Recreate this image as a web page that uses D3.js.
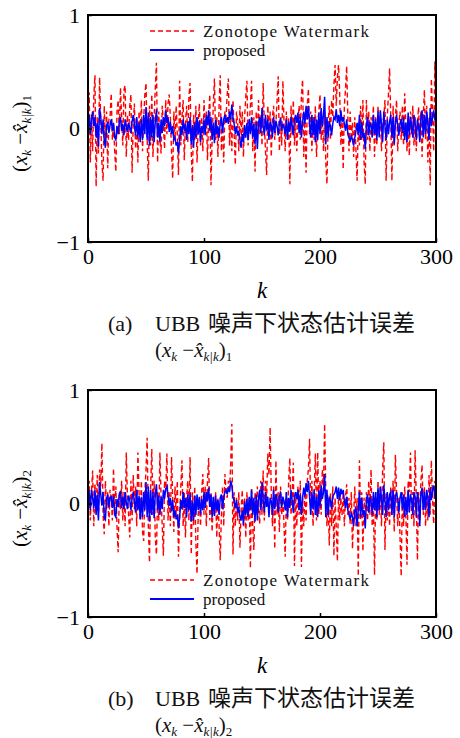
<!DOCTYPE html>
<html>
<head>
<meta charset="utf-8">
<script src="https://cdn.jsdelivr.net/npm/d3@7"></script>
<style>
  html, body { margin: 0; padding: 0; background: #fff; }
  svg { display: block; }
</style>
</head>
<body>
<div id="chart"></div>
<script>
// state estimation error under UBB noise, two components, k = 0..300
const kTicks = [0, 100, 200, 300];
const yTicks = [-1, 0, 1];
const seriesNames = ['Zonotope Watermark', 'proposed'];
const captionTags = ['(a)', '(b)'];
const captionText = '噪声下状态估计误差';
const componentIdx = ['1', '2'];

// panel (a): (x_k - x^_k|k)_1
const err1Zono = [
  -0.05, 0.32, -0.3, 0.12, -0.2, 0.28, 0.47, -0.51, 0.1, -0.22,
  0.45, 0.05, -0.3, -0.46, 0.2, -0.12, 0.15, -0.35, 0.08, 0.1,
  0.31, -0.1, 0.05, -0.2, -0.38, 0.15, 0.25, -0.05, 0.36, 0.1,
  -0.15, 0.34, 0.38, -0.25, 0.12, -0.1, 0.2, 0.3, -0.39, 0.05,
  0.22, -0.18, 0.1, -0.3, 0.15, -0.05, 0.25, -0.2, 0.08, 0.3,
  0.4, -0.1, -0.46, 0.2, -0.15, 0.3, -0.25, 0.1, 0.35, 0.58,
  -0.3, 0.15, -0.1, -0.22, 0.2, 0.05, -0.18, 0.25, -0.05, 0.22,
  0.3, 0.1, -0.2, -0.44, 0.15, -0.1, 0.2, -0.05, -0.41, 0.42,
  -0.15, 0.1, 0.25, -0.28, 0.05, 0.2, -0.12, 0.28, 0.4, -0.2,
  -0.47, 0.12, -0.1, 0.2, -0.3, 0.05, 0.22, -0.15, 0.1, -0.2,
  0.25, -0.05, 0.15, -0.28, 0.1, 0.3, -0.5, -0.1, 0.2, 0.44,
  -0.1, 0.1, -0.25, 0.2, 0.47, -0.2, 0.05, -0.3, 0.15, 0.1,
  0.3, 0.44, -0.15, 0.1, -0.2, 0.25, -0.05, -0.32, 0.15, 0.05,
  -0.2, 0.2, -0.1, 0.15, -0.25, 0.1, 0.28, 0.42, -0.15, 0.05,
  0.2, 0.42, -0.2, 0.1, -0.38, 0.15, -0.1, 0.25, -0.05, 0.12,
  -0.15, 0.4, 0.05, -0.2, -0.41, 0.2, -0.05, 0.15, -0.25, 0.1,
  0.2, -0.1, 0.05, 0.25, 0.46, -0.2, 0.1, -0.15, 0.42, 0.05,
  -0.2, 0.15, -0.1, 0.1, -0.49, 0.2, -0.05, 0.25, -0.15, 0.1,
  -0.2, 0.05, 0.2, -0.1, 0.3, 0.43, -0.25, 0.1, -0.39, 0.2,
  0.35, -0.05, 0.15, -0.2, 0.1, -0.1, 0.2, -0.25, 0.05, 0.15,
  0.3, -0.1, 0.1, -0.2, 0.15, -0.3, -0.49, 0.05, 0.2, -0.1,
  0.25, 0.1, 0.38, 0.56, 0.2, 0.45, 0.56, 0.3, -0.15, 0.1,
  -0.36, 0.2, 0.35, 0.55, 0.1, -0.2, 0.15, -0.1, 0.05, -0.25,
  0.1, -0.2, -0.46, 0.05, -0.15, 0.2, -0.1, 0.25, -0.3, -0.49,
  0.25, -0.1, 0.15, -0.2, 0.1, -0.05, 0.2, -0.25, 0.1, -0.15,
  0.2, -0.05, 0.15, -0.2, 0.05, 0.1, 0.25, -0.46, 0.1, 0.3,
  0.53, 0.1, -0.46, 0.2, -0.15, 0.1, 0.25, -0.2, 0.05, 0.15,
  -0.1, 0.2, -0.15, 0.31, 0.05, -0.2, 0.1, -0.24, 0.15, -0.05,
  0.2, -0.15, 0.1, -0.2, 0.05, 0.19, -0.1, 0.15, -0.25, 0.1,
  0.34, -0.1, 0.2, -0.3, 0.1, -0.5, 0.44, 0.15, -0.2, 0.59,
  0.2
];
const err1Prop = [
  0.05, 0.12, -0.05, 0.08, 0.15, 0.02, 0.1, -0.08, 0.05, -0.16,
  0.18, 0.1, -0.05, 0.08, -0.1, -0.17, 0.02, 0.06, -0.04, 0.03,
  0.08, -0.02, 0.05, -0.08, -0.1, 0.02, -0.05, 0.06, 0.1, -0.02,
  0.04, -0.06, 0.08, 0.02, -0.03, 0.05, 0.01, -0.04, 0.06, 0.12,
  0.03, -0.06, 0.1, -0.08, 0.05, -0.12, 0.08, -0.1, 0.12, -0.05,
  0.19, -0.1, 0.14, -0.15, 0.1, -0.08, 0.12, -0.12, 0.06, 0.17,
  -0.08, 0.05, -0.12, 0.08, -0.04, 0.1, 0.02, 0.16, 0.05, 0.1,
  -0.03, 0.06, -0.05, 0.02, -0.1, -0.08, -0.15, -0.12, -0.22, -0.1,
  0.02, -0.06, 0.08, -0.02, 0.04, -0.1, 0.06, -0.05, 0.1, -0.14,
  0.03, -0.17, 0.05, -0.08, 0.1, -0.05, 0.07, -0.12, 0.02, -0.04,
  0.08, -0.06, 0.12, 0.03, 0.16, -0.02, 0.1, -0.1, 0.05, -0.13,
  0.08, -0.05, 0.02, -0.08, 0.06, 0.1, -0.04, 0.08, 0.12, 0.05,
  0.1, 0.04, 0.15, 0.08, 0.21, 0.1, 0.04, -0.05, 0.02, -0.06,
  -0.02, -0.1, -0.17, -0.05, -0.12, 0.03, -0.08, 0.05, -0.1, 0.08,
  -0.05, 0.1, -0.08, 0.04, -0.14, 0.06, -0.18, 0.05, 0.1, -0.04,
  0.18, 0.02, -0.06, 0.12, -0.02, 0.08, -0.1, 0.06, 0.03, -0.08,
  0.1, -0.04, 0.07, 0.02, -0.06, 0.05, 0.09, -0.02, 0.04, 0.01,
  -0.05, 0.08, -0.1, 0.06, -0.03, 0.1, 0.02, -0.06, 0.08, 0.12,
  0.05, 0.14, -0.04, 0.1, -0.08, 0.06, 0.15, 0.04, 0.2, 0.08,
  0.2, 0.05, -0.08, 0.12, -0.06, 0.1, -0.12, 0.08, -0.1, 0.14,
  -0.05, 0.18, 0.02, 0.12, 0.28, -0.14, 0.1, -0.08, 0.06, 0.02,
  -0.06, 0.04, 0.1, 0.08, 0.17, 0.05, 0.12, 0.02, 0.16, 0.06,
  0.1, 0.04, -0.02, 0.08, -0.05, -0.08, -0.12, -0.06, -0.1, -0.15,
  -0.08, -0.02, 0.05, -0.06, 0.12, -0.1, 0.06, -0.08, -0.04, -0.18,
  0.02, 0.1, -0.06, 0.05, 0.03, -0.08, 0.12, -0.05, 0.08, -0.1,
  0.15, -0.08, 0.16, 0.04, -0.12, 0.15, 0.02, -0.1, 0.08, -0.05,
  0.06, 0.12, -0.08, 0.1, -0.14, 0.05, 0.12, 0.02, -0.06, 0.04,
  0.08, -0.04, 0.1, -0.1, 0.05, -0.12, 0.14, -0.06, 0.1, 0.02,
  -0.08, 0.12, 0.05, -0.1, 0.08, 0.02, -0.12, 0.1, 0.16, -0.08,
  0.12, -0.05, 0.15, 0.04, -0.1, 0.18, 0.02, 0.1, 0.16, 0.08,
  0.05
];

// panel (b): (x_k - x^_k|k)_2
const err2Zono = [
  -0.1, 0.2, -0.15, 0.1, 0.29, -0.2, 0.18, -0.08, 0.25, -0.12,
  0.3, 0.15, 0.53, -0.1, -0.27, 0.2, -0.05, 0.1, -0.2, 0.12,
  0.05, -0.15, 0.31, -0.1, 0.15, -0.2, -0.43, 0.1, -0.05, 0.2,
  -0.15, 0.1, -0.2, 0.45, 0.05, -0.1, -0.3, 0.2, -0.15, 0.25,
  -0.05, 0.15, -0.2, 0.45, 0.1, -0.15, 0.2, -0.25, -0.33, 0.1,
  0.3, 0.58, -0.2, -0.52, 0.15, 0.48, -0.1, 0.2, -0.3, -0.45,
  0.1, -0.15, 0.45, 0.05, -0.2, -0.46, 0.2, 0.1, 0.44, -0.15,
  0.1, -0.2, 0.41, 0.05, -0.25, 0.15, -0.1, 0.2, -0.47, -0.1,
  0.15, 0.38, -0.2, 0.1, -0.3, 0.05, 0.2, -0.15, 0.41, -0.45,
  0.1, -0.2, 0.15, -0.35, -0.62, -0.1, 0.05, -0.2, 0.1, 0.26,
  -0.1, 0.15, -0.2, 0.2, 0.4, -0.15, 0.1, -0.25, 0.05, -0.1,
  0.1, -0.3, 0.05, -0.2, -0.5, -0.1, 0.15, -0.2, 0.26, 0.1,
  0.05, 0.2, 0.1, 0.35, 0.7, -0.45, 0.1, -0.2, 0.05, -0.15,
  0.1, -0.39, -0.05, 0.12, -0.2, 0.05, -0.3, 0.1, -0.15, 0.05,
  -0.57, 0.14, -0.2, -0.41, 0.1, -0.1, 0.15, -0.05, -0.18, 0.2,
  -0.1, 0.29, -0.15, 0.2, 0.05, 0.44, 0.25, 0.67, 0.1, -0.2,
  0.15, -0.4, 0.38, -0.1, 0.1, -0.25, 0.15, -0.1, 0.05, -0.2,
  -0.47, 0.1, -0.15, 0.2, 0.4, -0.1, 0.05, 0.36, -0.55, 0.1,
  -0.2, 0.15, -0.1, 0.2, -0.56, 0.05, -0.2, 0.1, -0.15, 0.2,
  0.3, 0.57, -0.1, 0.2, -0.2, 0.1, 0.44, -0.15, 0.45, -0.1,
  0.2, -0.1, 0.3, 0.15, 0.7, 0.1, -0.2, 0.05, -0.37, 0.1,
  -0.2, 0.15, -0.46, 0.05, -0.2, -0.51, 0.1, -0.15, 0.05, -0.1,
  0.1, -0.2, 0.05, 0.17, -0.1, 0.05, -0.18, 0.1, -0.4, -0.1,
  0.15, -0.2, 0.05, -0.64, 0.38, -0.15, 0.1, -0.42, 0.05, -0.2,
  0.1, -0.15, 0.2, -0.1, 0.3, -0.2, 0.05, -0.63, 0.1, -0.15,
  0.2, -0.1, 0.15, -0.2, 0.3, 0.54, -0.41, 0.1, -0.15, 0.05,
  -0.2, 0.15, -0.1, 0.2, -0.25, 0.43, 0.1, -0.2, 0.05, -0.3,
  -0.64, 0.1, -0.2, 0.15, -0.1, -0.54, 0.2, 0.1, 0.45, -0.15,
  0.1, -0.2, 0.47, 0.05, -0.5, 0.1, -0.15, 0.2, 0.34, -0.1,
  0.15, -0.2, 0.1, -0.15, 0.25, -0.1, 0.38, 0.05, -0.18, 0.2,
  0.1
];
const err2Prop = [
  0.08, 0.1, -0.06, 0.12, 0.05, -0.04, 0.12, -0.1, 0.08, -0.15,
  0.19, 0.08, -0.02, 0.1, -0.12, -0.14, 0.04, 0.08, -0.03, 0.05,
  0.06, -0.04, 0.07, -0.1, -0.12, 0.04, -0.03, 0.08, 0.11, -0.04,
  0.06, -0.05, 0.1, 0.01, -0.05, 0.07, 0.03, -0.06, 0.05, 0.1,
  0.02, -0.08, 0.12, -0.06, 0.07, -0.14, 0.06, -0.12, 0.1, -0.06,
  0.19, -0.12, 0.15, -0.16, 0.12, -0.1, 0.1, -0.13, 0.08, 0.17,
  -0.06, 0.07, -0.1, 0.06, -0.05, 0.12, 0.04, 0.13, 0.15, 0.08,
  -0.02, 0.05, -0.07, 0.03, -0.12, -0.06, -0.14, -0.1, -0.22, -0.12,
  0.03, -0.05, 0.1, -0.04, 0.05, -0.12, 0.08, -0.06, 0.09, -0.16,
  0.02, -0.15, 0.07, -0.1, 0.08, -0.06, 0.06, -0.1, 0.04, -0.06,
  0.1, -0.04, 0.1, 0.02, 0.14, -0.03, 0.08, -0.12, 0.06, -0.11,
  0.07, -0.06, 0.03, -0.1, 0.05, 0.08, -0.05, 0.06, 0.1, 0.12,
  0.08, 0.14, 0.1, 0.2, 0.16, 0.06, 0.02, -0.04, 0.03, -0.08,
  -0.03, -0.12, -0.15, -0.06, -0.19, 0.02, -0.1, 0.04, -0.12, 0.06,
  -0.06, 0.12, -0.1, 0.05, -0.16, 0.08, -0.15, 0.04, 0.12, -0.06,
  0.19, 0.03, -0.08, 0.1, -0.03, 0.06, -0.12, 0.05, 0.02, -0.1,
  0.12, -0.05, 0.08, 0.03, -0.08, 0.06, 0.1, -0.04, 0.06, 0.02,
  -0.06, 0.1, -0.12, 0.05, -0.04, 0.12, 0.03, -0.08, 0.06, 0.1,
  0.04, 0.12, -0.06, 0.08, -0.1, 0.05, 0.14, 0.06, 0.18, 0.1,
  0.2, 0.06, -0.1, 0.1, -0.05, 0.12, -0.1, 0.06, -0.12, 0.12,
  -0.04, 0.16, 0.04, 0.1, 0.26, -0.12, 0.12, -0.1, 0.05, 0.03,
  -0.05, 0.06, 0.08, 0.1, 0.15, 0.04, 0.14, 0.03, 0.13, 0.08,
  0.12, 0.02, -0.04, 0.06, -0.06, -0.1, -0.14, -0.08, -0.12, -0.2,
  -0.06, -0.04, -0.2, -0.05, 0.1, -0.12, 0.05, -0.1, -0.06, -0.22,
  0.03, 0.08, -0.08, 0.06, 0.02, -0.1, 0.1, -0.06, 0.1, -0.12,
  0.14, -0.06, 0.15, 0.05, -0.1, 0.16, 0.03, -0.12, 0.1, -0.06,
  0.08, 0.1, -0.1, 0.12, -0.12, 0.06, 0.1, 0.03, -0.08, 0.05,
  0.1, -0.05, 0.08, -0.12, 0.06, -0.1, 0.12, -0.08, 0.08, 0.03,
  -0.1, 0.1, 0.06, -0.12, 0.1, 0.03, -0.2, 0.08, 0.14, -0.06,
  0.1, -0.06, 0.12, 0.05, -0.12, 0.14, 0.03, 0.12, 0.16, 0.06,
  0.04
];

(function(){
  const W = 460, H = 738;
  const serif = '"Liberation Serif", "Times New Roman", serif';
  const cjk = '"Noto Sans CJK SC", sans-serif';
  const svg = d3.select('#chart').append('svg')
    .attr('width', W).attr('height', H).attr('viewBox', `0 0 ${W} ${H}`);

  const x = d3.scaleLinear().domain([0, 300]).range([88, 436]);

  // (x_k - x^_k|k)_n as tspans
  function formula(t, idx){
    const small = 13;
    t.append('tspan').text('(');
    t.append('tspan').attr('font-style', 'italic').text('x');
    t.append('tspan').attr('font-style', 'italic').attr('font-size', small).attr('dy', 4).text('k');
    t.append('tspan').attr('dy', -4).text(' \u2212');
    t.append('tspan').attr('font-style', 'italic').text('x\u0302');
    t.append('tspan').attr('font-style', 'italic').attr('font-size', small).attr('dy', 4).text('k|k');
    t.append('tspan').attr('dy', -4).text(')');
    t.append('tspan').attr('font-size', small).attr('dy', 4).text(idx);
  }

  const panels = [
    { top: 15, bottom: 242, zono: err1Zono, prop: err1Prop, legendY: 31, tag: captionTags[0], idx: componentIdx[0] },
    { top: 390, bottom: 617, zono: err2Zono, prop: err2Prop, legendY: 580, tag: captionTags[1], idx: componentIdx[1] }
  ];

  panels.forEach((p, pi) => {
    const y = d3.scaleLinear().domain([-1, 1]).range([p.bottom, p.top]);
    const g = svg.append('g');

    const clipId = 'clip' + pi;
    svg.append('clipPath').attr('id', clipId).append('rect')
      .attr('x', x(0)).attr('y', y(1)).attr('width', x(300) - x(0)).attr('height', y(-1) - y(1));

    const line = d3.line().x((d, i) => x(i)).y(d => y(d));
    const plot = g.append('g').attr('clip-path', `url(#${clipId})`);
    plot.append('path').datum(p.zono).attr('d', line)
      .attr('fill', 'none').attr('stroke', '#ff0000').attr('stroke-width', 1.4)
      .attr('stroke-dasharray', '5,3');
    plot.append('path').datum(p.prop).attr('d', line)
      .attr('fill', 'none').attr('stroke', '#0000ff').attr('stroke-width', 1.5);

    // box + inward ticks
    g.append('rect').attr('x', x(0)).attr('y', y(1))
      .attr('width', x(300) - x(0)).attr('height', y(-1) - y(1))
      .attr('fill', 'none').attr('stroke', '#000').attr('stroke-width', 2);
    const xAxis = d3.axisBottom(x).tickValues(kTicks).tickSizeInner(-4).tickSizeOuter(0).tickPadding(6);
    const ax = g.append('g').attr('transform', `translate(0,${y(-1)})`).call(xAxis);
    ax.select('.domain').remove();
    ax.selectAll('line').attr('stroke', '#000').attr('stroke-width', 1.5);
    ax.selectAll('text').attr('font-family', serif).attr('font-size', 22).attr('fill', '#000');
    const yAxis = d3.axisLeft(y).tickValues(yTicks).tickSizeInner(-4).tickSizeOuter(0).tickPadding(8)
      .tickFormat(d => d < 0 ? '\u2212' + Math.abs(d) : d);
    const ay = g.append('g').attr('transform', `translate(${x(0)},0)`).call(yAxis);
    ay.select('.domain').remove();
    ay.selectAll('line').attr('stroke', '#000').attr('stroke-width', 1.5);
    ay.selectAll('text').attr('font-family', serif).attr('font-size', 22).attr('fill', '#000');

    // y label (rotated)
    const yl = g.append('text')
      .attr('transform', `translate(27,${(y(1) + y(-1)) / 2 + 5}) rotate(-90)`)
      .attr('text-anchor', 'middle').attr('font-family', serif).attr('font-size', 21).attr('fill', '#000');
    formula(yl, p.idx);

    // x label
    g.append('text').attr('x', x(150)).attr('y', y(-1) + 56)
      .attr('text-anchor', 'middle').attr('font-family', serif).attr('font-style', 'italic')
      .attr('font-size', 23).attr('fill', '#000').text('k');

    // legend
    const colors = ['#ff0000', '#0000ff'];
    seriesNames.forEach((name, si) => {
      const ly = p.legendY + si * 19;
      g.append('line').attr('x1', 150).attr('x2', 194).attr('y1', ly).attr('y2', ly)
        .attr('stroke', colors[si]).attr('stroke-width', si ? 1.8 : 1.4)
        .attr('stroke-dasharray', si ? null : '5,3');
      g.append('text').attr('x', 203).attr('y', ly + 6)
        .attr('font-family', serif).attr('font-size', 17).attr('fill', '#111')
        .attr('textLength', si ? null : 166).text(name);
    });

    // caption
    const cy = y(-1) + 89;
    g.append('text').attr('x', 108).attr('y', cy).attr('font-family', serif).attr('font-size', 22).attr('fill', '#111').text(p.tag);
    g.append('text').attr('x', 155).attr('y', cy).attr('font-family', serif).attr('font-size', 22).attr('fill', '#111').text('UBB');
    g.append('text').attr('x', 208).attr('y', cy).attr('font-family', cjk).attr('font-size', 23).attr('fill', '#111').text(captionText);
    const ft = g.append('text').attr('x', 155).attr('y', cy + 26)
      .attr('font-family', serif).attr('font-size', 21).attr('fill', '#111');
    formula(ft, p.idx);
  });
})();
</script>
</body>
</html>
